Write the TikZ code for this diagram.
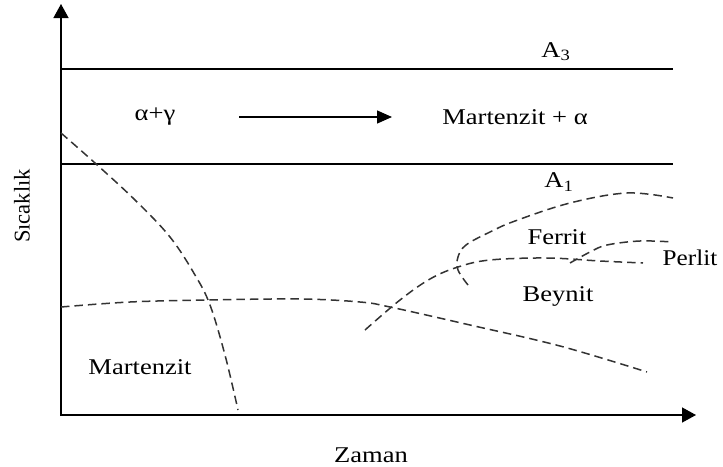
\documentclass[tikz,border=0pt]{standalone}
\usepackage{fontspec}
\setmainfont{Liberation Serif}
\usetikzlibrary{arrows.meta}
\begin{document}
\begin{tikzpicture}[x=1pt,y=-1pt,
  axis/.style={line width=1.4pt,-{Triangle[length=14pt,width=15pt]}},
  level/.style={line width=1.2pt},
  curve/.style={line width=1.5pt,color=black!80,dash pattern=on 8.5pt off 5pt},
  lbl/.style={font=\fontsize{22.5}{24}\selectfont,inner sep=0pt,xscale=1.18}]
\useasboundingbox (0,0) rectangle (723,466);
% axes
\coordinate (o) at (61,415);
\coordinate (ytip) at (61,4);
\coordinate (xtip) at (696,415);
\draw[axis] (61,416) -- (ytip);
\draw[axis] (60.3,415) -- (xtip);
% A3 and A1 lines
\coordinate (a3l) at (61,69);
\coordinate (a3r) at (673,69);
\coordinate (a1l) at (61,164);
\coordinate (a1r) at (673,164);
\draw[level] (a3l) -- (a3r);
\draw[level] (a1l) -- (a1r);
% labels
\node[lbl] (A3) at (556,52) {A\textsubscript{3}};
\node[lbl] (A1) at (559,182) {A\textsubscript{1}};
\node[lbl] (ag) at (155,117) {α+γ};
\node[lbl] (ma) at (515,117) {Martenzit + α};
\coordinate (arrs) at (239,117);
\coordinate (arre) at (392,117);
\draw[line width=1.3pt,-{Triangle[length=15pt,width=13pt]}] (arrs) -- (arre);
\node[lbl] (ferrit) at (557,237) {Ferrit};
\node[lbl,xscale=0.95] (perlit) at (690,258) {Perlit};
\node[lbl] (beynit) at (558,296) {Beynit};
\node[lbl] (mart) at (140,367) {Martenzit};
\node[lbl] (zaman) at (371,455) {Zaman};
\node[lbl,xscale=1/1.18,rotate=90] (sic) at (22,206) {Sıcaklık};
% dashed curves
\draw[curve] plot[smooth,tension=0.6] coordinates {(61,133) (95,163) (135,200) (170,237) (195,275) (210,305) (225,355) (238,410)};
\draw[curve] plot[smooth,tension=0.6] coordinates {(61,307) (130,302) (207,300) (300,299) (360,302) (390,307) (470,325) (560,346) (647,372)};
\draw[curve] plot[smooth,tension=0.6] coordinates {(365,330) (400,300) (430,279) (458,267) (490,260) (547,258) (600,261) (643,263)};
\draw[curve] plot[smooth,tension=0.6] coordinates {(468,285) (458,270) (458,257) (466,245) (490,232) (515,221) (570,203) (627,193) (673,198)};
\draw[curve] plot[smooth,tension=0.6] coordinates {(570,263) (590,252) (607,245) (640,241) (673,242)};
\end{tikzpicture}
\end{document}
